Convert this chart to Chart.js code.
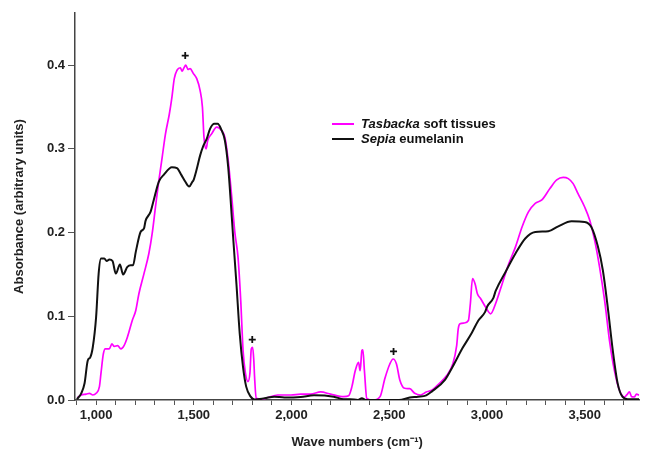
<!DOCTYPE html>
<html>
<head>
<meta charset="utf-8">
<script src="https://cdn.jsdelivr.net/npm/chart.js@4.4.1/dist/chart.umd.min.js"></script>
<style>
html,body{margin:0;padding:0;background:#fff;}
#wrap{width:645px;height:456px;position:relative;}
</style>
</head>
<body>
<div id="wrap"><canvas id="c" width="645" height="456"></canvas></div>
<script>
// ---- data ----
const tasbackaWave = [905,924,949,966,983,1000,1017,1025,1037,1047,1067,1081,1093,1110,1127,1143,1160,1185,1203,1219,1245,1270,1287,1304,1321,1338,1355,1375,1388,1400,1414,1431,1440,1448,1459,1470,1481,1498,1515,1532,1544,1552,1563,1571,1591,1617,1642,1659,1676,1693,1710,1726,1740,1752,1764,1777,1787,1794,1801,1807,1811,1819,1850,1880,1929,1997,2047,2098,2149,2200,2267,2292,2309,2326,2343,2351,2360,2365,2373,2385,2419,2453,2478,2503,2520,2537,2554,2579,2605,2630,2660,2689,2720,2757,2790,2825,2845,2853,2862,2883,2905,2915,2926,2939,2951,2968,2993,3019,3044,3078,3112,3146,3180,3213,3247,3281,3323,3357,3390,3416,3441,3466,3500,3526,3551,3576,3602,3627,3652,3678,3703,3715,3729,3740,3754,3765,3779];
const tasbackaAbs  = [0.003,0.006,0.007,0.008,0.006,0.008,0.016,0.032,0.055,0.061,0.061,0.067,0.064,0.065,0.061,0.065,0.075,0.095,0.107,0.127,0.151,0.175,0.199,0.231,0.262,0.290,0.318,0.342,0.362,0.384,0.394,0.397,0.393,0.396,0.400,0.395,0.396,0.390,0.384,0.370,0.350,0.314,0.300,0.310,0.318,0.326,0.322,0.314,0.286,0.245,0.200,0.171,0.119,0.059,0.032,0.022,0.032,0.061,0.063,0.047,0.027,0.002,0.001,0.003,0.006,0.006,0.007,0.007,0.0096,0.007,0.004,0.005,0.016,0.035,0.045,0.035,0.059,0.060,0.035,0.002,0.000,0.004,0.026,0.043,0.049,0.043,0.024,0.014,0.0135,0.008,0.006,0.0096,0.012,0.020,0.028,0.043,0.065,0.085,0.091,0.092,0.095,0.115,0.145,0.139,0.127,0.121,0.111,0.103,0.115,0.139,0.163,0.183,0.207,0.225,0.235,0.239,0.253,0.263,0.266,0.2645,0.2585,0.2466,0.2306,0.2147,0.191,0.159,0.119,0.071,0.0355,0.0116,0.0036,0.006,0.0096,0.004,0.0036,0.007,0.0056];

const sepiaWave = [902,924,941,957,970,983,1000,1013,1025,1042,1054,1068,1084,1101,1122,1138,1160,1177,1189,1203,1228,1245,1253,1279,1295,1321,1346,1388,1414,1436,1456,1476,1493,1498,1515,1532,1549,1566,1583,1605,1622,1639,1659,1676,1693,1701,1718,1735,1752,1768,1791,1811,1862,1912,1963,2047,2115,2216,2267,2300,2340,2360,2380,2450,2550,2605,2647,2689,2717,2785,2825,2875,2922,2956,2990,3002,3033,3044,3095,3146,3196,3247,3314,3365,3433,3500,3534,3568,3593,3618,3644,3669,3694,3720,3779];
const sepiaAbs  = [0.001,0.008,0.020,0.047,0.051,0.063,0.099,0.151,0.169,0.169,0.166,0.168,0.166,0.151,0.162,0.150,0.159,0.161,0.161,0.177,0.201,0.205,0.214,0.225,0.239,0.261,0.269,0.278,0.277,0.269,0.261,0.255,0.261,0.2625,0.276,0.292,0.304,0.312,0.324,0.330,0.330,0.324,0.310,0.278,0.223,0.195,0.139,0.079,0.039,0.016,0.004,0.0005,0.002,0.004,0.003,0.0036,0.0056,0.004,0.001,0.001,0.000,0.002,0.000,0.000,0.000,0.003,0.004,0.0056,0.010,0.024,0.040,0.062,0.080,0.095,0.105,0.112,0.122,0.130,0.153,0.175,0.193,0.2007,0.2016,0.2075,0.2135,0.2127,0.2067,0.183,0.155,0.111,0.059,0.0196,0.0036,0.001,0.001];

const markerWave = [1456, 1799, 2522];
const markerAbs  = [0.4115, 0.0722, 0.058];

const yTickValues = [0.0, 0.1, 0.2, 0.3, 0.4];
const legendLabels = [
  {italic: 'Tasbacka', rest: ' soft tissues', color: '#ff00ff'},
  {italic: 'Sepia', rest: ' eumelanin', color: '#111111'}
];

const zip = (xs, ys) => xs.map((x, i) => ({x: x, y: ys[i]}));

const FONT = 'Arial, "Liberation Sans", sans-serif';

const legendPlugin = {
  id: 'customLegend',
  afterDraw(chart) {
    const ctx = chart.ctx;
    ctx.save();
    const x0 = 332, x1 = 354, tx = 361;
    const ys = [124, 139];
    legendLabels.forEach((l, i) => {
      ctx.strokeStyle = l.color;
      ctx.lineWidth = 2;
      ctx.beginPath();
      ctx.moveTo(x0, ys[i]);
      ctx.lineTo(x1, ys[i]);
      ctx.stroke();
      ctx.fillStyle = '#111';
      ctx.textBaseline = 'middle';
      ctx.font = 'italic bold 13px ' + FONT;
      ctx.fillText(l.italic, tx, ys[i]);
      const w = ctx.measureText(l.italic).width;
      ctx.font = 'bold 13px ' + FONT;
      ctx.fillText(l.rest, tx + w, ys[i]);
    });
    ctx.restore();
  }
};

new Chart(document.getElementById('c'), {
  type: 'line',
  data: {
    datasets: [
      {
        label: 'Tasbacka soft tissues',
        data: zip(tasbackaWave, tasbackaAbs),
        borderColor: '#ff00ff',
        borderWidth: 1.7,
        pointRadius: 0,
        cubicInterpolationMode: 'monotone',
        fill: false,
        order: 2
      },
      {
        label: 'Sepia eumelanin',
        data: zip(sepiaWave, sepiaAbs),
        borderColor: '#111111',
        borderWidth: 2,
        pointRadius: 0,
        cubicInterpolationMode: 'monotone',
        fill: false,
        order: 1
      },
      {
        label: 'markers',
        type: 'scatter',
        data: zip(markerWave, markerAbs),
        pointStyle: 'cross',
        pointRadius: 3.5,
        borderColor: '#111',
        backgroundColor: '#111',
        borderWidth: 1.8,
        showLine: false,
        order: 0
      }
    ]
  },
  options: {
    responsive: false,
    animation: false,
    devicePixelRatio: 1,
    layout: {padding: {top: 13, right: 0, left: 0, bottom: 0}},
    plugins: {legend: {display: false}, tooltip: {enabled: false}},
    scales: {
      x: {
        type: 'linear',
        min: 892,
        max: 3779,
        afterFit(s) { s.height = 56; s.paddingLeft = 0; s.paddingRight = 0; },
        border: {color: '#444', width: 1.5},
        grid: {drawOnChartArea: false, drawTicks: true, tickLength: 5, color: '#555', lineWidth: 1},
        ticks: {
          stepSize: 100,
          includeBounds: false,
          autoSkip: false,
          maxRotation: 0,
          padding: 3,
          color: '#222',
          font: {family: FONT, size: 13, weight: 'bold'},
          callback: v => (v % 500 === 0 ? v.toLocaleString('en-US') : '')
        },
        title: {
          display: true,
          text: 'Wave numbers (cm\u207B\u00B9)',
          color: '#222',
          font: {family: FONT, size: 13, weight: 'bold'},
          padding: {top: 4, bottom: 6}
        }
      },
      y: {
        type: 'linear',
        min: 0,
        max: 0.4624,
        afterFit(s) { s.width = 75; s.paddingTop = 0; s.paddingBottom = 0; },
        afterBuildTicks(s) { s.ticks = yTickValues.map(v => ({value: v})); },
        border: {color: '#444', width: 1.5},
        grid: {drawOnChartArea: false, drawTicks: true, tickLength: 7, color: '#555', lineWidth: 1},
        ticks: {
          padding: 3,
          color: '#222',
          font: {family: FONT, size: 13, weight: 'bold'},
          callback: v => Number(v).toFixed(1)
        },
        title: {
          display: true,
          text: 'Absorbance (arbitrary units)',
          color: '#222',
          font: {family: FONT, size: 13, weight: 'bold'},
          padding: {top: 12, bottom: 4}
        }
      }
    }
  },
  plugins: [legendPlugin]
});
</script>
</body>
</html>
